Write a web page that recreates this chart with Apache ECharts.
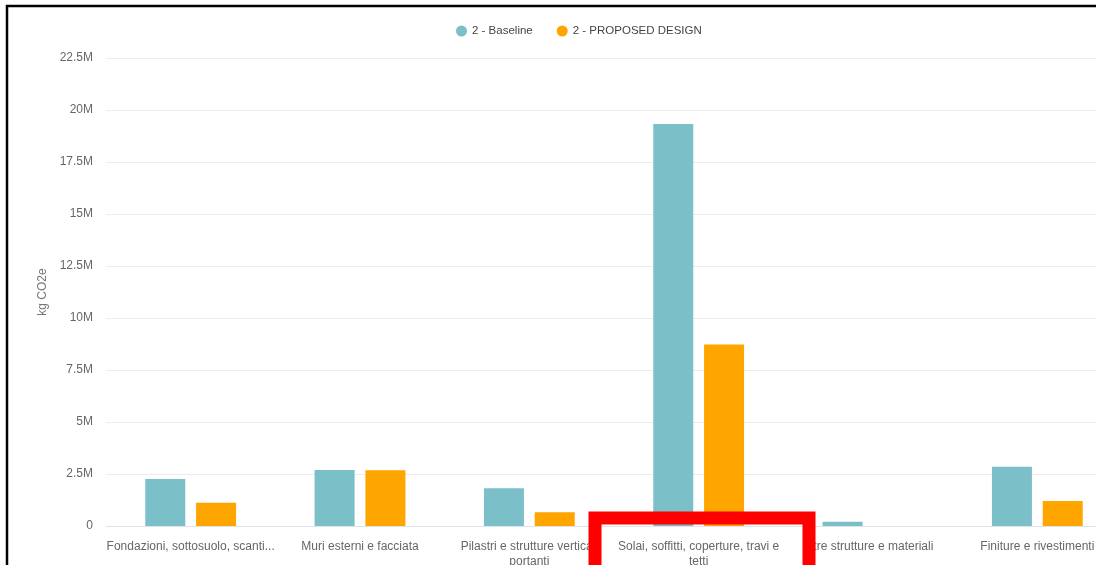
<!DOCTYPE html>
<html>
<head>
<meta charset="utf-8">
<script src="https://cdn.jsdelivr.net/npm/echarts@6/dist/echarts.min.js"></script>
<style>
  html, body { margin: 0; padding: 0; background: #fff; }
  #chart { width: 1096px; height: 565px; }
</style>
</head>
<body>
<div id="chart"></div>
<script>
const categories = [
  'Fondazioni, sottosuolo, scantinati',
  'Muri esterni e facciata',
  'Pilastri e strutture verticali portanti',
  'Solai, soffitti, coperture, travi e tetti',
  'Altre strutture e materiali',
  'Finiture e rivestimenti'
]
const tickLabels = [
  'Fondazioni, sottosuolo, scanti...',
  'Muri esterni e facciata',
  'Pilastri e strutture verticali\nportanti',
  'Solai, soffitti, coperture, travi e\ntetti',
  'Altre strutture e materiali',
  'Finiture e rivestimenti'
]
const baseline = [2260000, 2690000, 1810000, 19330000, 210000, 2850000]
const proposed = [1120000, 2680000, 660000, 8730000, 0, 1200000]
const seriesNames = ['2 - Baseline', '2 - PROPOSED DESIGN']

const font = 'Liberation Sans, Arial, sans-serif'

var myChart = echarts.init(document.getElementById('chart'), null, { renderer: 'canvas' })

myChart.setOption({
  backgroundColor: '#fff',
  animation: false,
  textStyle: { fontFamily: font },
  legend: {
    left: 451,
    top: 20,
    icon: 'circle',
    itemWidth: 11,
    itemHeight: 11,
    itemGap: 24,
    textStyle: { color: '#444', fontSize: 11.5, fontFamily: font },
    data: seriesNames
  },
  grid: {
    left: 106,
    top: 58,
    width: 1016,
    height: 468,
    containLabel: false,
    outerBoundsMode: 'none'
  },
  xAxis: {
    type: 'category',
    data: categories,
    axisTick: { show: false },
    axisLine: { lineStyle: { color: '#dde3ea', width: 1 } },
    axisLabel: {
      interval: 0,
      margin: 13,
      color: '#666',
      fontSize: 12,
      lineHeight: 15,
      fontFamily: font,
      formatter: (v, i) => tickLabels[i]
    }
  },
  yAxis: {
    type: 'value',
    min: 0,
    max: 22500000,
    interval: 2500000,
    name: 'kg CO2e',
    nameLocation: 'middle',
    nameGap: 56,
    nameTextStyle: { color: '#777', fontSize: 12, fontFamily: font },
    axisLine: { show: false },
    axisTick: { show: false },
    splitLine: { lineStyle: { color: '#ececec', width: 1 } },
    axisLabel: {
      margin: 13,
      color: '#666',
      fontSize: 12,
      fontFamily: font,
      formatter: v => v === 0 ? '0' : (v / 1000000) + 'M'
    }
  },
  series: [
    {
      name: seriesNames[0],
      type: 'bar',
      data: baseline,
      barWidth: 40,
      barGap: '27%',
      itemStyle: { color: '#7bbfc9' }
    },
    {
      name: seriesNames[1],
      type: 'bar',
      data: proposed,
      barWidth: 40,
      itemStyle: { color: '#ffa500' }
    }
  ],
  graphic: [
    {
      type: 'rect',
      z: 100,
      shape: { x: 7, y: 6, width: 1200, height: 700 },
      style: { fill: 'none', stroke: '#000', lineWidth: 2.5 }
    },
    {
      type: 'rect',
      z: 100,
      shape: { x: 595, y: 518, width: 214, height: 120 },
      style: { fill: 'none', stroke: '#ff0000', lineWidth: 13 }
    }
  ]
})
</script>
</body>
</html>
